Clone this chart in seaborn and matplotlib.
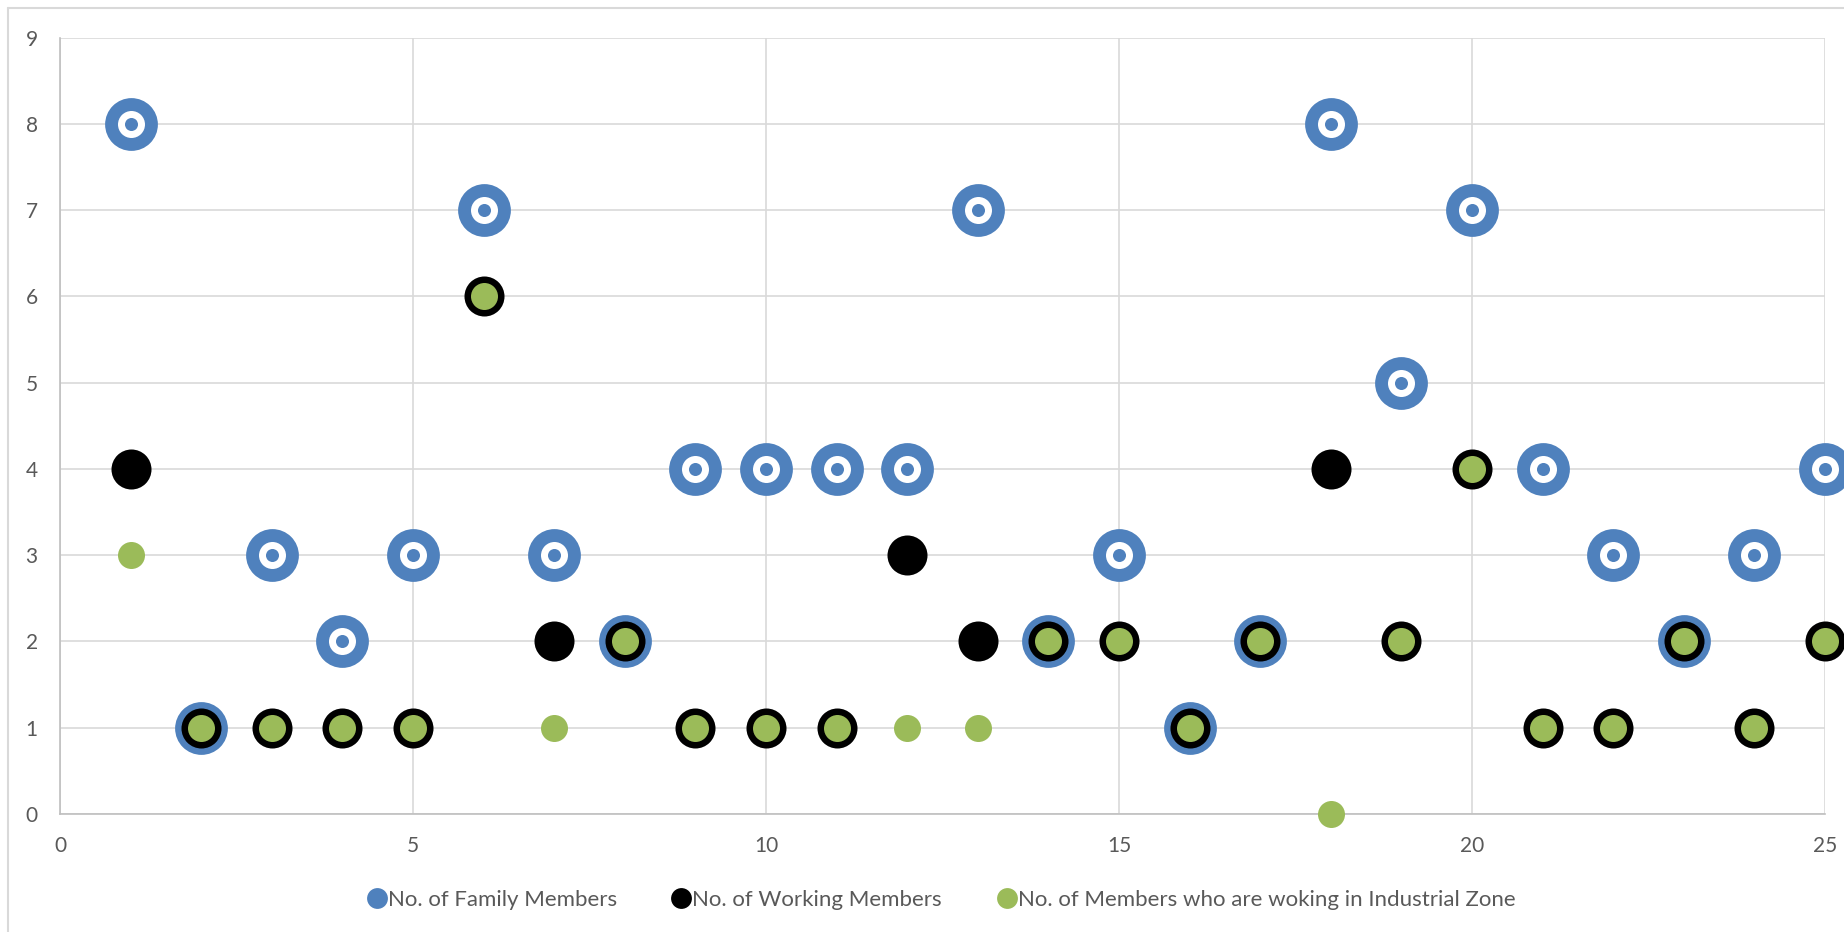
import matplotlib
matplotlib.use("Agg")
import matplotlib.pyplot as plt
from matplotlib.lines import Line2D
import seaborn as sns
import pandas as pd

# Data
household = list(range(1, 26))
family_members = [8, 1, 3, 2, 3, 7, 3, 2, 4, 4, 4, 4, 7, 2, 3, 1, 2, 8, 5, 7, 4, 3, 2, 3, 4]
working_members = [4, 1, 1, 1, 1, 6, 2, 2, 1, 1, 1, 3, 2, 2, 2, 1, 2, 4, 2, 4, 1, 1, 2, 1, 2]
industrial_members = [3, 1, 1, 1, 1, 6, 1, 2, 1, 1, 1, 1, 1, 2, 2, 1, 2, 0, 2, 4, 1, 1, 2, 1, 2]

labels = [
    "No. of Family Members",
    "No. of Working Members",
    "No. of Members who are woking in Industrial Zone",
]

blue = "#4F81BD"
black = "#000000"
green = "#9BBB59"
text_gray = "#595959"

df = pd.DataFrame(
    {
        "x": household,
        "family": family_members,
        "working": working_members,
        "industrial": industrial_members,
    }
)

sns.set_theme(style="white")
plt.rcParams["font.family"] = ["Lato", "DejaVu Sans"]

fig = plt.figure(figsize=(18.44, 9.32), dpi=100)
ax = fig.add_axes([60 / 1844, 1 - 814 / 932, (1825 - 60) / 1844, (814 - 37.7) / 932])

# Family members: blue disk, white ring, blue dot
sns.scatterplot(data=df, x="x", y="family", s=1444, color=blue, linewidth=0, ax=ax, clip_on=False, zorder=3)
sns.scatterplot(data=df, x="x", y="family", s=378, color="white", linewidth=0, ax=ax, clip_on=False, zorder=3)
sns.scatterplot(data=df, x="x", y="family", s=88, color=blue, linewidth=0, ax=ax, clip_on=False, zorder=3)

# Working members
sns.scatterplot(data=df, x="x", y="working", s=830, color=black, linewidth=0, ax=ax, clip_on=False, zorder=4)

# Industrial zone members
sns.scatterplot(data=df, x="x", y="industrial", s=378, color=green, linewidth=0, ax=ax, clip_on=False, zorder=5)

ax.set_xlim(0, 25)
ax.set_ylim(0, 9)
ax.set_xticks(range(0, 26, 5))
ax.set_yticks(range(0, 10))
ax.set_xlabel("")
ax.set_ylabel("")

ax.grid(True, color="#D9D9D9", linewidth=1.2, zorder=0)
ax.set_axisbelow(True)
for side in ["top", "right"]:
    ax.spines[side].set_visible(False)
for side in ["left", "bottom"]:
    ax.spines[side].set_color("#BFBFBF")
    ax.spines[side].set_linewidth(1.2)

ax.tick_params(axis="both", length=0, labelsize=15, labelcolor=text_gray)
ax.tick_params(axis="y", pad=16)
ax.tick_params(axis="x", pad=16)

# Legend
handles = [
    Line2D([], [], marker="o", linestyle="", markersize=15, color=c, markeredgewidth=0)
    for c in [blue, black, green]
]
fig.legend(
    handles,
    labels,
    loc="center",
    bbox_to_anchor=(0.51, 1 - 900 / 932),
    ncol=3,
    frameon=False,
    fontsize=16,
    labelcolor=text_gray,
    handletextpad=0.0,
    columnspacing=2.4,
    handlelength=1.0,
)

# chart frame (left and top edges visible)
fig.add_artist(Line2D([8 / 1844, 8 / 1844], [0, 1 - 8 / 932], color="#D9D9D9", linewidth=1.5))
fig.add_artist(Line2D([8 / 1844, 1], [1 - 8 / 932, 1 - 8 / 932], color="#D9D9D9", linewidth=1.5))

fig.savefig("out.png", dpi=100)
